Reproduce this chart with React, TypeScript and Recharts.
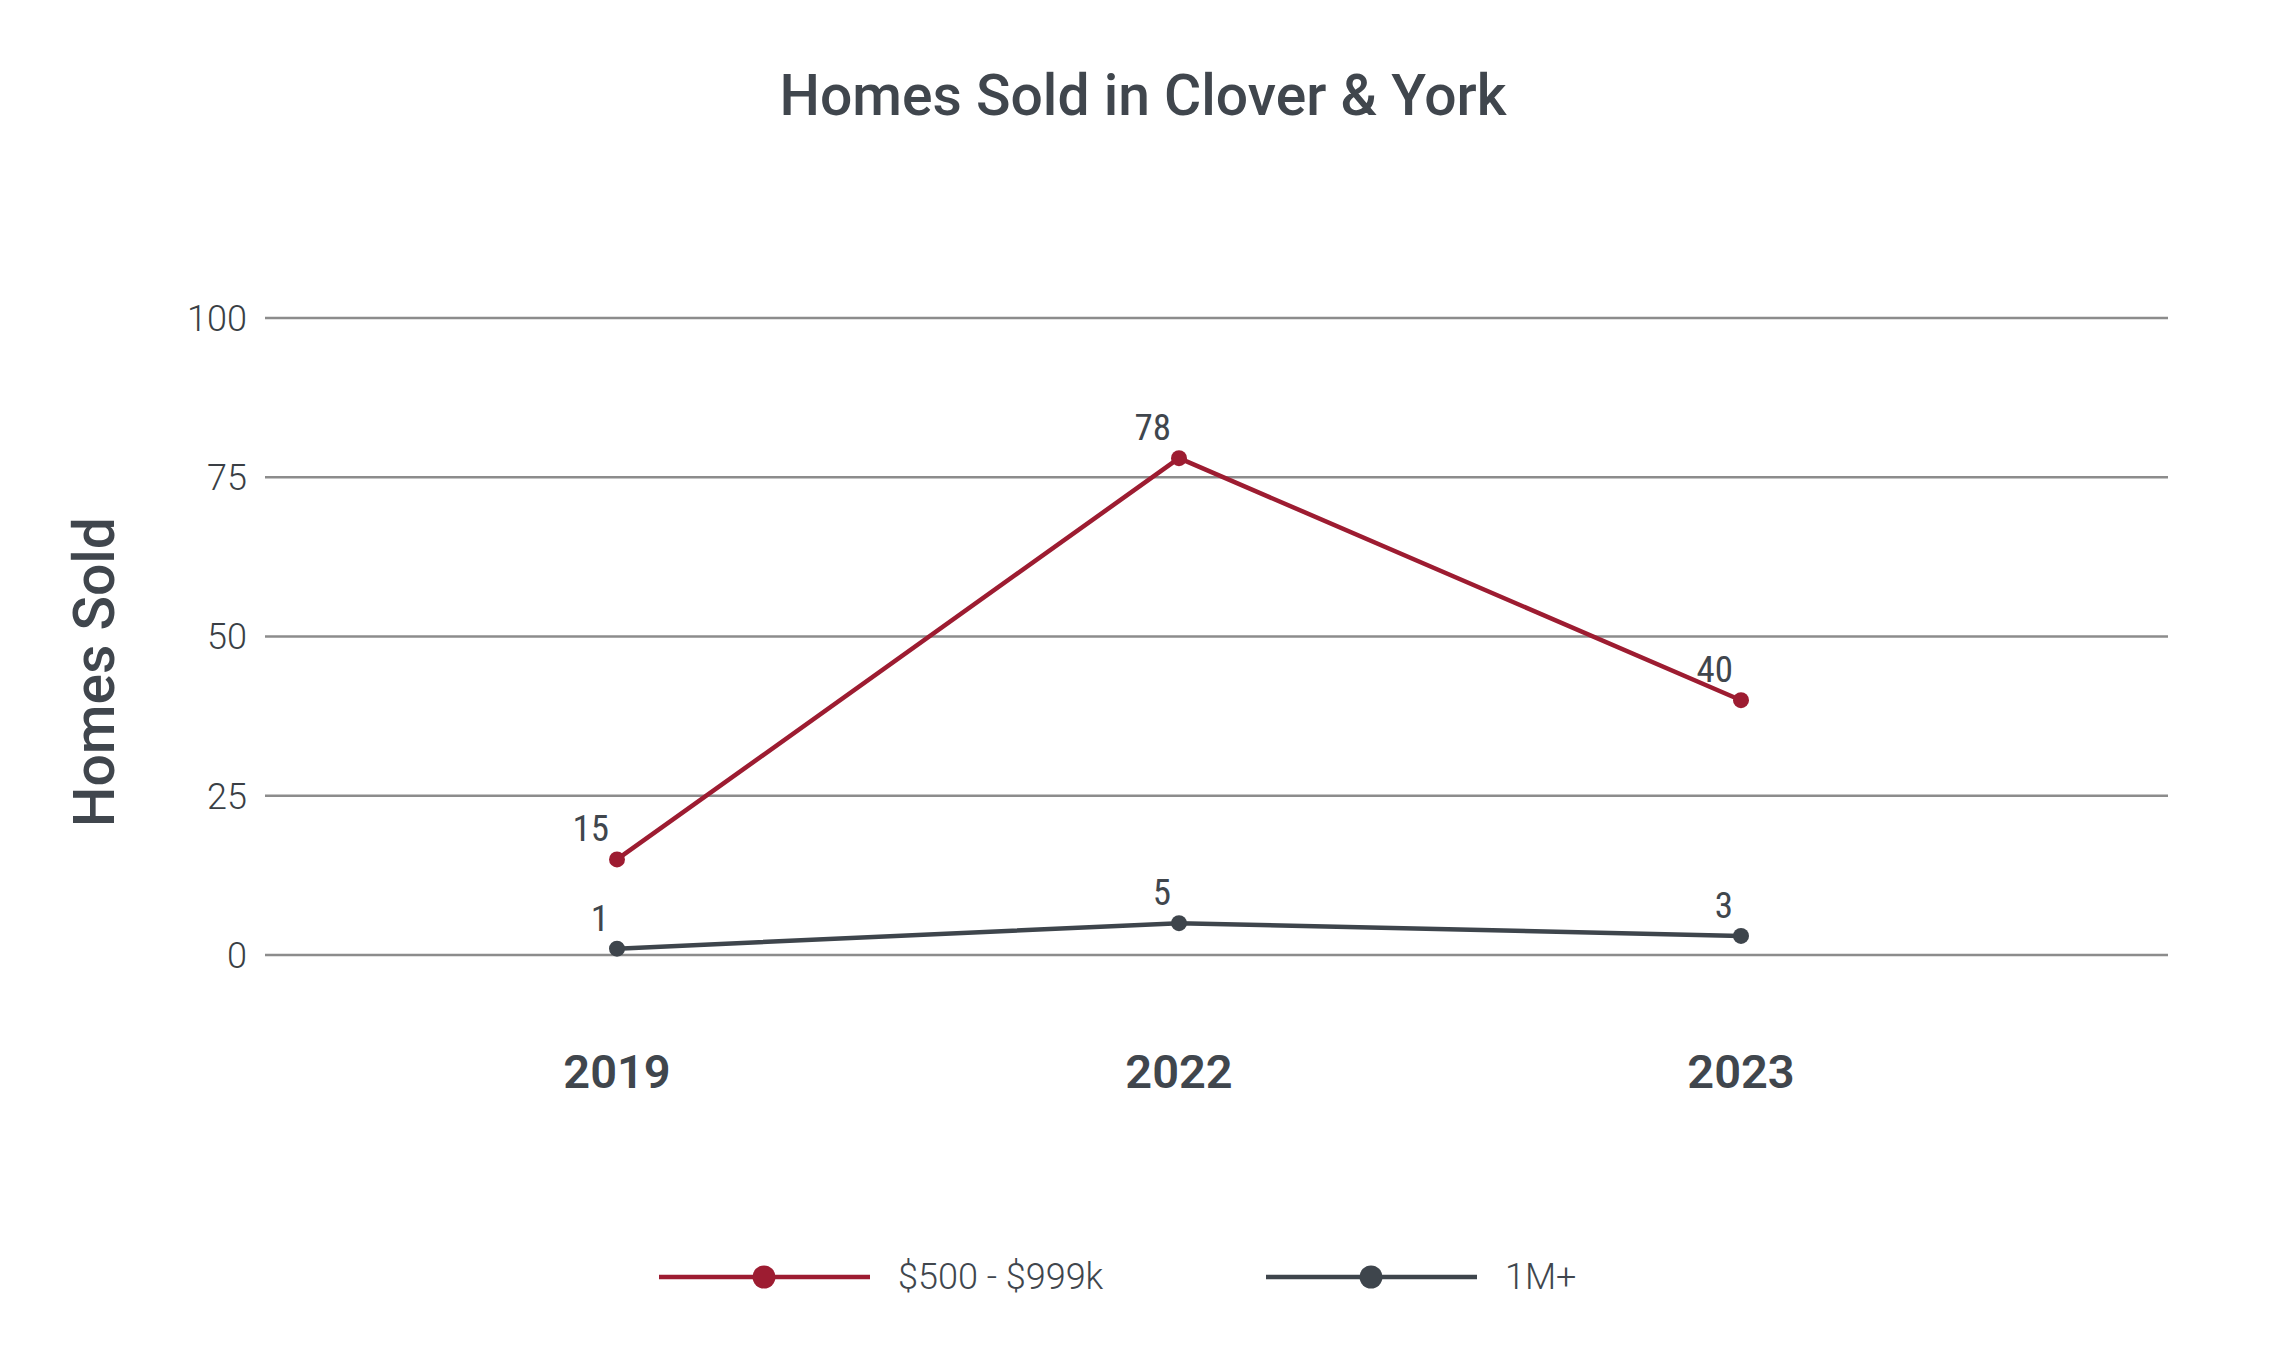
import React from 'react';
import { LineChart, Line, XAxis, YAxis, CartesianGrid, Legend, LabelList } from 'recharts';

const years = ['2019', '2022', '2023'];
const midRange = [15, 78, 40];
const millionPlus = [1, 5, 3];
const yTicks = [0, 25, 50, 75, 100];

const RED = '#9d1c31';
const SLATE = '#3e454c';
const INK = '#40464d';
const SANS = 'Roboto, "Open Sans", sans-serif';
const NARROW = '"Liberation Sans Narrow", "Roboto Condensed", Roboto, sans-serif';

const data = years.map((year, i) => ({ year, mid: midRange[i], top: millionPlus[i] }));

const PointLabel = (props: any) => {
  const { x, y, value } = props;
  return (
    <text x={x - 8} y={y - 18} textAnchor="end" fontSize={37} fontFamily={NARROW} fill={INK}>
      {value}
    </text>
  );
};

const YTitle = (props: any) => {
  const x = (props.viewBox?.x ?? 0) + 114;
  const y = 672;
  return (
    <text
      x={x}
      y={y}
      transform={`rotate(-90 ${x} ${y})`}
      textAnchor="middle"
      fontSize={57}
      fontWeight={500}
      fontFamily={SANS}
      fill={INK}
    >
      Homes Sold
    </text>
  );
};

const renderLegend = (props: any) => (
  <div style={{ display: 'flex', alignItems: 'center', height: 60, paddingLeft: 659 }}>
    {props.payload.map((entry: any) => (
      <div key={entry.value} style={{ display: 'flex', alignItems: 'center', width: 607 }}>
        <svg width={211} height={30}>
          <line x1={0} y1={15} x2={211} y2={15} stroke={entry.color} strokeWidth={4.5} />
          <circle cx={105} cy={15} r={11.5} fill={entry.color} />
        </svg>
        <span style={{ marginLeft: 28, fontSize: 36, fontWeight: 300, fontFamily: SANS, color: INK }}>
          {entry.value}
        </span>
      </div>
    ))}
  </div>
);

export default function App() {
  return (
    <div style={{ position: 'absolute', left: 0, top: 0, width: 2286, height: 1357, background: '#fff' }}>
      <div
        style={{
          position: 'absolute',
          top: 68,
          left: 0,
          width: 2286,
          textAlign: 'center',
          fontFamily: SANS,
          fontSize: 57,
          lineHeight: '56px',
          fontWeight: 500,
          color: INK,
        }}
      >
        Homes Sold in Clover &amp; York
      </div>
      <LineChart width={2286} height={1357} data={data} margin={{ top: 318, right: 118, bottom: 50, left: 0 }}>
        <CartesianGrid vertical={false} stroke="#8c8c8c" strokeWidth={2.5} />
        <XAxis
          dataKey="year"
          axisLine={false}
          tickLine={false}
          height={292}
          tickMargin={94}
          padding={{ left: 352, right: 427 }}
          tick={{ fontSize: 47, fontWeight: 600, fill: INK, fontFamily: SANS }}
        />
        <YAxis
          domain={[0, 100]}
          ticks={yTicks}
          axisLine={false}
          tickLine={false}
          width={265}
          tickMargin={12}
          tick={{ fontSize: 36, fontWeight: 300, fill: '#3a3f45', fontFamily: SANS }}
          label={YTitle}
        />
        <Legend
          verticalAlign="bottom"
          wrapperStyle={{ left: 0, width: 2286, height: 60, bottom: 50 }}
          content={renderLegend}
        />
        <Line
          type="linear"
          dataKey="mid"
          name="$500 - $999k"
          stroke={RED}
          strokeWidth={4.5}
          dot={{ r: 8, fill: RED, stroke: RED, strokeWidth: 0 }}
          activeDot={false}
          isAnimationActive={false}
        >
          <LabelList dataKey="mid" content={PointLabel} />
        </Line>
        <Line
          type="linear"
          dataKey="top"
          name="1M+"
          stroke={SLATE}
          strokeWidth={4.5}
          dot={{ r: 8, fill: SLATE, stroke: SLATE, strokeWidth: 0 }}
          activeDot={false}
          isAnimationActive={false}
        >
          <LabelList dataKey="top" content={PointLabel} />
        </Line>
      </LineChart>
    </div>
  );
}
